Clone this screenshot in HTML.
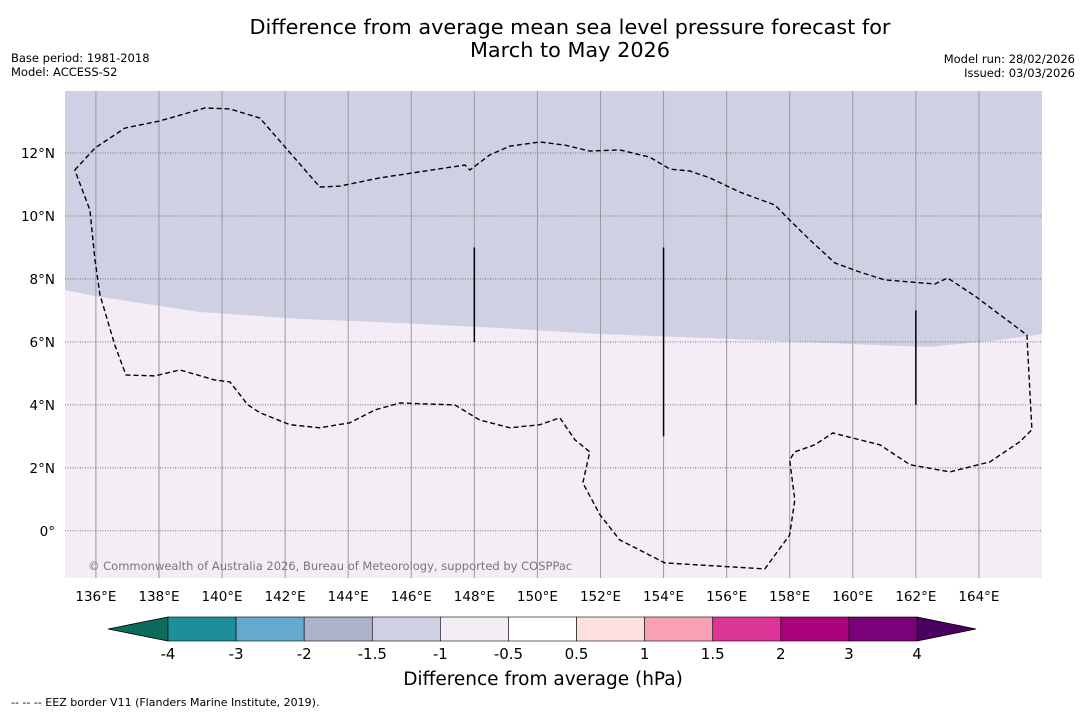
<!DOCTYPE html>
<html><head><meta charset="utf-8"><style>
body{margin:0;background:#fff;font-family:"Liberation Sans","DejaVu Sans",sans-serif}
</style></head><body>
<svg width="1085" height="713" xmlns="http://www.w3.org/2000/svg" font-family="DejaVu Sans, Liberation Sans, sans-serif">
<text x="570" y="34" text-anchor="middle" font-size="20.8">Difference from average mean sea level pressure forecast for</text>
<text x="570" y="57" text-anchor="middle" font-size="20.8">March to May 2026</text>
<text x="11" y="62" font-size="11.5">Base period: 1981-2018</text>
<text x="11" y="76" font-size="11.5">Model: ACCESS-S2</text>
<text x="1075" y="63" font-size="11.5" text-anchor="end">Model run: 28/02/2026</text>
<text x="1075" y="77" font-size="11.5" text-anchor="end">Issued: 03/03/2026</text>
<g id="map"></g>
<g id="cbar"></g>
<text x="543" y="685" text-anchor="middle" font-size="18.5">Difference from average (hPa)</text>
<text x="11" y="706" font-size="11">-- -- -- EEZ border V11 (Flanders Marine Institute, 2019).</text>
</svg>
<script>
const lonTicks=[136,138,140,142,144,146,148,150,152,154,156,158,160,162,164];
const latTicks=[0,2,4,6,8,10,12];
const eezLon=[135.33,135.97,136.92,138.03,139.46,140.25,141.20,143.10,143.74,145.00,147.70,147.86,148.49,149.13,150.08,150.87,151.66,152.61,153.56,154.20,154.83,155.47,156.42,157.53,158.00,158.64,159.43,160.22,161.02,162.60,163.01,163.87,165.52,165.68,165.30,164.35,163.08,161.81,160.86,160.22,159.37,158.80,158.16,158.00,158.16,158.00,157.21,154.04,152.61,151.98,151.44,151.66,151.19,150.71,150.08,149.13,148.17,147.38,145.64,144.85,144.05,143.10,142.15,141.20,140.82,140.25,139.77,138.66,137.87,136.95,136.60,136.13,135.97,135.81,135.33];
const eezLat=[11.46,12.16,12.79,13.02,13.43,13.40,13.11,10.92,10.95,11.21,11.62,11.46,11.94,12.22,12.35,12.25,12.06,12.10,11.87,11.49,11.43,11.21,10.76,10.35,9.87,9.24,8.51,8.22,7.97,7.84,8.03,7.46,6.22,3.21,2.83,2.19,1.87,2.10,2.73,2.89,3.11,2.73,2.51,2.25,0.98,-0.13,-1.21,-1.02,-0.29,0.51,1.52,2.51,2.89,3.59,3.37,3.27,3.52,4.00,4.06,3.84,3.43,3.27,3.37,3.75,4.00,4.73,4.79,5.11,4.92,4.95,5.90,7.49,8.60,10.19,11.46];
const bndLon=[135.0,136.13,139.30,142.47,145.64,148.81,151.98,155.15,158.32,161.49,162.44,164.66,166.0];
const bndLat=[7.65,7.43,6.95,6.73,6.60,6.44,6.25,6.13,6.00,5.87,5.84,6.06,6.25];
const segLon=[148,154,162];
const segLat0=[6,3,4];
const segLat1=[9,9,7];
const cbLevels=["-4","-3","-2","-1.5","-1","-0.5","0.5","1","1.5","2","3","4"];
const cbColors=["#1d8f98","#65a8d0","#adb3ca","#cfd0e4","#f4edf5","#ffffff","#fde0df","#f8a0b6","#dc3597","#ae017e","#7a0177"];

const NS="http://www.w3.org/2000/svg";
const X0=65,X1=1042,Y0=91,Y1=578;
const LON0=135.02,LON1=166.0,LAT0=-1.5,LAT1=13.97;
const xs=l=>X0+(l-LON0)/(LON1-LON0)*(X1-X0);
const ys=l=>Y1-(l-LAT0)/(LAT1-LAT0)*(Y1-Y0);
function mk(tag,attrs,parent){const e=document.createElementNS(NS,tag);for(const k in attrs)e.setAttribute(k,attrs[k]);parent.appendChild(e);return e;}
const map=document.getElementById('map');
const cp=mk('clipPath',{id:'clip'},map);mk('rect',{x:X0,y:Y0,width:X1-X0,height:Y1-Y0},cp);
const bg=mk('rect',{x:X0,y:Y0,width:X1-X0,height:Y1-Y0,fill:'#f4edf5'},map);


let d='M'+X0+','+Y0;
for(let i=0;i<bndLon.length;i++)d+=' L'+xs(bndLon[i]).toFixed(1)+','+ys(bndLat[i]).toFixed(1);
d+=' L'+X1+','+Y0+' Z';
const up=mk('path',{d:d,fill:'#cfd0e4','clip-path':'url(#clip)'},map);


lonTicks.forEach(l=>{
 const x=xs(l);
 const g=mk('line',{x1:x,x2:x,y1:Y0,y2:Y1,stroke:'#999',"stroke-width":1},map);
 
 
 const t=mk('text',{x:x,y:Y1+23,"text-anchor":"middle","font-size":13.5},map);t.textContent=l+'°E';
 
 
});
latTicks.forEach(l=>{
 const y=ys(l);
 const g=mk('line',{x1:X0,x2:X1,y1:y,y2:y,stroke:'#777',"stroke-width":1,"stroke-dasharray":"1,1.5"},map);
 
 
 const t=mk('text',{x:X0-10,y:y+5,"text-anchor":"end","font-size":13.5},map);t.textContent=l===0?'0°':l+'°N';
 
 
});
let e='';
for(let i=0;i<eezLon.length;i++)e+=(i?' L':'M')+xs(eezLon[i]).toFixed(1)+','+ys(eezLat[i]).toFixed(1);
const ez=mk('path',{d:e,fill:'none',stroke:'#000',"stroke-width":1.4,"stroke-dasharray":"5,3"},map);


for(let i=0;i<segLon.length;i++){
 const s=mk('line',{x1:xs(segLon[i]),x2:xs(segLon[i]),y1:ys(segLat0[i]),y2:ys(segLat1[i]),stroke:'#000',"stroke-width":1.5},map);
 
 
}
const cr=mk('text',{x:88,y:570,"font-size":11.5,fill:'#777'},map);cr.textContent='© Commonwealth of Australia 2026, Bureau of Meteorology, supported by COSPPac';


const cb=document.getElementById('cbar');
const CX0=168,CX1=917,CY0=617,CY1=641,n=cbColors.length,w=(CX1-CX0)/n;
const lt=mk('polygon',{points:`${CX0},${CY0} 108,629 ${CX0},${CY1}`,fill:'#0d6b5c',stroke:'#000',"stroke-width":0.8},cb);


const rt=mk('polygon',{points:`${CX1},${CY0} 976,629 ${CX1},${CY1}`,fill:'#4a0060',stroke:'#000',"stroke-width":0.8},cb);


cbColors.forEach((c,i)=>{
 const r=mk('rect',{x:CX0+i*w,y:CY0,width:w,height:CY1-CY0,fill:c,stroke:'#000',"stroke-width":0.6},cb);
 
 
});
cbLevels.forEach((v,i)=>{
 const t=mk('text',{x:CX0+i*w,y:659,"text-anchor":"middle","font-size":15},cb);t.textContent=v;
 
 
});
</script>
</body></html>
